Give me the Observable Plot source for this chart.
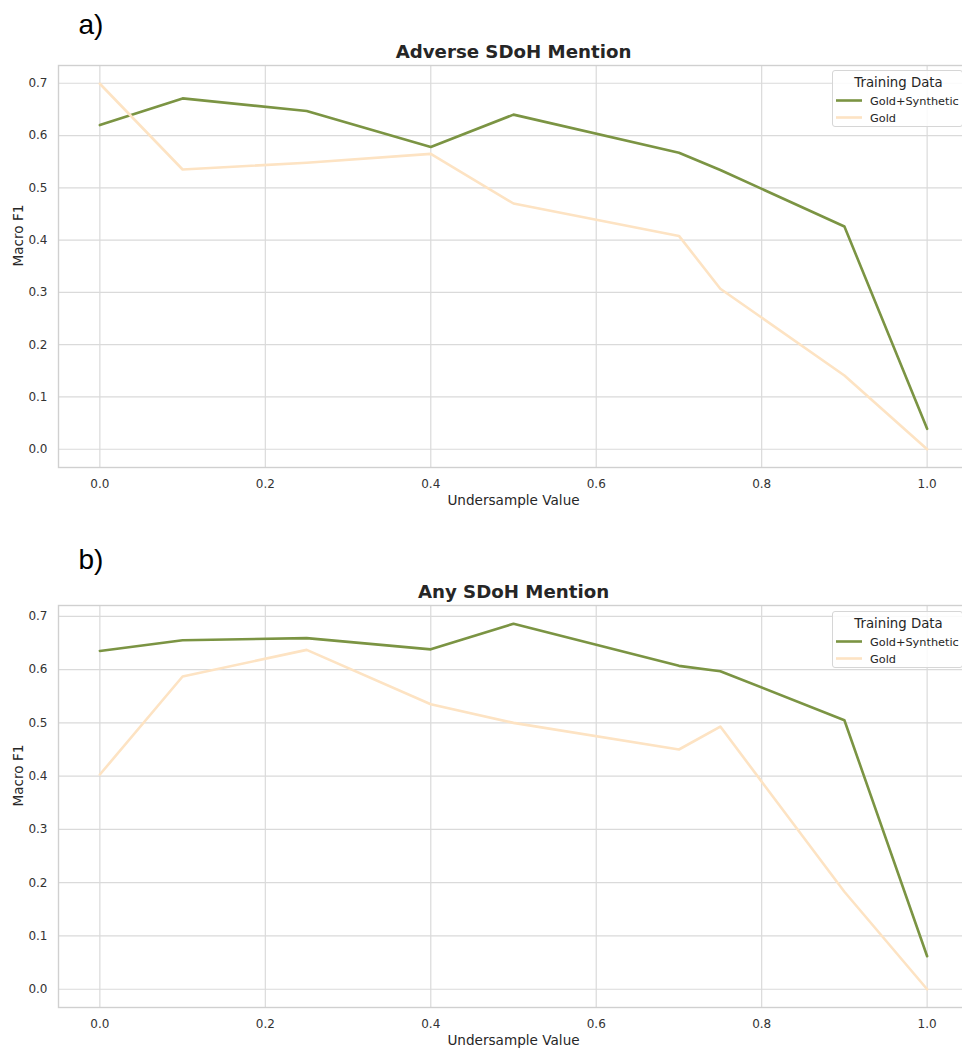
<!DOCTYPE html>
<html>
<head>
<meta charset="utf-8">
<script src="https://cdn.jsdelivr.net/npm/d3@7"></script>
<script src="https://cdn.jsdelivr.net/npm/@observablehq/plot@0.6"></script>
<style>
html, body { margin: 0; padding: 0; background: #fff; }
#root { position: relative; width: 962px; height: 1049px; overflow: hidden; background: #fff; font-family: "DejaVu Sans", sans-serif; }
#root svg.panel { position: absolute; left: 0; max-width: none !important; }
.legend { position: absolute; left: 832px; width: 131px; height: 57px; border: 1px solid #d6d6d6; border-radius: 3px; background: rgba(255,255,255,0.85); box-sizing: border-box; }
.legend svg { position: absolute; left: 0; top: 0; overflow: visible; }
</style>
</head>
<body>
<div id="root"></div>
<script>
// ---- data ----
const xValues = [0, 0.1, 0.25, 0.4, 0.5, 0.7, 0.75, 0.9, 1.0];
const adverseSynthetic = [0.620, 0.671, 0.647, 0.578, 0.640, 0.567, 0.534, 0.426, 0.039];
const adverseGold      = [0.699, 0.535, 0.548, 0.565, 0.470, 0.408, 0.307, 0.141, 0.0];
const anySynthetic     = [0.635, 0.655, 0.659, 0.638, 0.686, 0.607, 0.597, 0.505, 0.062];
const anyGold          = [0.403, 0.587, 0.637, 0.535, 0.500, 0.450, 0.493, 0.183, 0.0];
const seriesNames = ["Gold+Synthetic", "Gold"];
const seriesColors = ["#7b9443", "#fde3c3"];
const panelTitles = ["Adverse SDoH Mention", "Any SDoH Mention"];
const panelLetters = ["a)", "b)"];
const legendTitle = "Training Data";
const xLabel = "Undersample Value";
const yLabel = "Macro F1";
const xTicks = [0, 0.2, 0.4, 0.6, 0.8, 1.0];
const yTicks = [0, 0.1, 0.2, 0.3, 0.4, 0.5, 0.6, 0.7];

const root = document.getElementById("root");
const fmt = d3.format(".1f");

function makePanel({top, height, marginBottom, synth, gold, title, letter, letterDy, legendTop}) {
  const data = [
    ...xValues.map((x, i) => ({x, y: synth[i], s: seriesNames[0]})),
    ...xValues.map((x, i) => ({x, y: gold[i], s: seriesNames[1]}))
  ];
  const ymin = d3.min(data, d => d.y), ymax = d3.max(data, d => d.y);
  const pad = (ymax - ymin) * 0.05;
  const svg = Plot.plot({
    width: 975,
    height,
    marginLeft: 58,
    marginRight: 7,
    marginTop: 65,
    marginBottom,
    style: {fontFamily: '"DejaVu Sans", sans-serif', fontSize: "12px", color: "#262626", background: "#fff", overflow: "visible", maxWidth: "none"},
    x: {domain: [-0.05, 1.05]},
    y: {domain: [ymin - pad, ymax + pad]},
    color: {domain: seriesNames, range: seriesColors},
    marks: [
      Plot.gridX({ticks: xTicks, stroke: "#dadada", strokeOpacity: 1, strokeWidth: 1.2}),
      Plot.gridY({ticks: yTicks, stroke: "#dadada", strokeOpacity: 1, strokeWidth: 1.2}),
      Plot.frame({stroke: "#d0d0d0", strokeWidth: 1.4}),
      Plot.axisX({ticks: xTicks, tickSize: 0, tickPadding: 12, tickFormat: fmt, label: null, fill: "#333", fontSize: 12}),
      Plot.axisY({ticks: yTicks, tickSize: 0, tickPadding: 11, tickFormat: fmt, label: null, fill: "#333", fontSize: 12}),
      Plot.line(data, {x: "x", y: "y", z: "s", stroke: "s", strokeWidth: 2.6}),
      Plot.text([xLabel], {text: d => d, frameAnchor: "bottom", lineAnchor: "middle", dy: 33, fontSize: 13.6, fill: "#262626"}),
      Plot.text([yLabel], {text: d => d, frameAnchor: "left", lineAnchor: "middle", rotate: -90, dx: -40, fontSize: 13.6, fill: "#262626"}),
      Plot.text([title], {text: d => d, frameAnchor: "top", lineAnchor: "middle", dy: -13, fontSize: 18.2, fontWeight: "bold", fill: "#262626"}),
      Plot.text([letter], {text: d => d, frameAnchor: "top-left", lineAnchor: "middle", textAnchor: "start", dx: 20, dy: letterDy, fontSize: 28, fontFamily: '"Liberation Sans", Arial, sans-serif', fill: "#000"})
    ]
  });
  svg.classList.add("panel");
  svg.style.top = top + "px";
  svg.style.maxWidth = "none";
  root.appendChild(svg);

  // legend
  const lg = d3.select(root).append("div").attr("class", "legend").style("top", legendTop + "px");
  const ls = lg.append("svg").attr("width", 131).attr("height", 57);
  ls.append("text").attr("x", 65.5).attr("y", 16).attr("text-anchor", "middle")
    .attr("font-size", 13.3).attr("fill", "#262626").attr("font-family", '"DejaVu Sans", sans-serif').text(legendTitle);
  seriesNames.forEach((name, i) => {
    const cy = 29.5 + i * 17;
    ls.append("line").attr("x1", 3).attr("x2", 29).attr("y1", cy).attr("y2", cy)
      .attr("stroke", seriesColors[i]).attr("stroke-width", 2.6);
    ls.append("text").attr("x", 37).attr("y", cy + 4).attr("font-size", 11.3).attr("fill", "#262626")
      .attr("font-family", '"DejaVu Sans", sans-serif').text(name);
  });
}

makePanel({top: 0, height: 520, marginBottom: 53, synth: adverseSynthetic, gold: adverseGold,
  title: panelTitles[0], letter: panelLetters[0], letterDy: -40, legendTop: 70});
makePanel({top: 540, height: 509, marginBottom: 42, synth: anySynthetic, gold: anyGold,
  title: panelTitles[1], letter: panelLetters[1], letterDy: -45, legendTop: 611});
</script>
</body>
</html>
